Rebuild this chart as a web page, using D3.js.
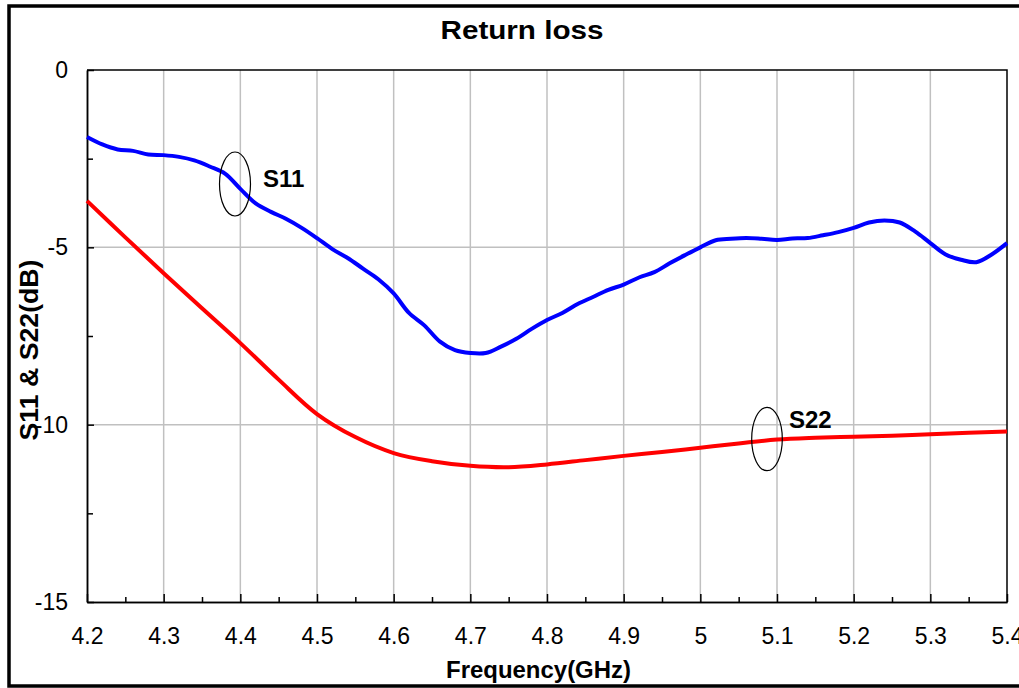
<!DOCTYPE html>
<meta charset="utf-8">
<script src="https://d3js.org/d3.v7.min.js"></script>
<style>
  body { margin: 0; background: #fff; }
  text { font-family: "Liberation Sans", Arial, sans-serif; }
</style>
<div id="chart"></div>
<script>

// data
var s11Freq = [4.20, 4.22, 4.24, 4.26, 4.28, 4.30, 4.32, 4.34, 4.36, 4.38,
               4.40, 4.42, 4.44, 4.46, 4.48, 4.50, 4.52, 4.54, 4.56, 4.58,
               4.60, 4.62, 4.64, 4.66, 4.68, 4.70, 4.72, 4.74, 4.76, 4.78,
               4.80, 4.82, 4.84, 4.86, 4.88, 4.90, 4.92, 4.94, 4.96, 4.98,
               5.00, 5.02, 5.04, 5.06, 5.08, 5.10, 5.12, 5.14, 5.16, 5.18,
               5.20, 5.22, 5.24, 5.26, 5.28, 5.30, 5.32, 5.34, 5.36, 5.38, 5.40];
var s11 = [-1.89, -2.10, -2.24, -2.28, -2.38, -2.40, -2.45, -2.55, -2.72, -2.92,
           -3.35, -3.76, -4.00, -4.20, -4.45, -4.74, -5.05, -5.30, -5.60, -5.90,
           -6.30, -6.85, -7.20, -7.65, -7.90, -7.98, -7.98, -7.80, -7.58, -7.30,
           -7.05, -6.85, -6.60, -6.40, -6.20, -6.05, -5.85, -5.70, -5.45, -5.22,
           -5.00, -4.80, -4.76, -4.74, -4.76, -4.79, -4.75, -4.74, -4.66, -4.57,
           -4.45, -4.30, -4.24, -4.30, -4.55, -4.88, -5.20, -5.35, -5.42, -5.20, -4.88];

var s22Freq = [4.20, 4.25, 4.30, 4.35, 4.40, 4.45, 4.50, 4.55, 4.60, 4.65,
               4.70, 4.75, 4.80, 4.85, 4.90, 4.95, 5.00, 5.05, 5.10, 5.15,
               5.20, 5.25, 5.30, 5.35, 5.40];
var s22 = [-3.69, -4.72, -5.73, -6.72, -7.70, -8.73, -9.70, -10.35, -10.80, -11.03,
           -11.16, -11.20, -11.12, -11.00, -10.88, -10.77, -10.65, -10.53, -10.42, -10.37,
           -10.34, -10.31, -10.27, -10.23, -10.19];

var xTicks = [4.2, 4.3, 4.4, 4.5, 4.6, 4.7, 4.8, 4.9, 5.0, 5.1, 5.2, 5.3, 5.4];
var xMinor = [4.25, 4.35, 4.45, 4.55, 4.65, 4.75, 4.85, 4.95, 5.05, 5.15, 5.25, 5.35];
var yTicks = [0, -5, -10, -15];
var yMinor = [-2.5, -7.5, -12.5];

var W = 1019, H = 688;
var plotL = 87, plotR = 1007, plotT = 70, plotB = 602;

var svg = d3.select("#chart").append("svg")
    .attr("width", W)
    .attr("height", H);

var x = d3.scaleLinear().domain([4.2, 5.4]).range([plotL, plotR]);
var y = d3.scaleLinear().domain([-15, 0]).range([plotB, plotT]);

// outer frame
svg.append("rect")
    .attr("x", 9).attr("y", 6)
    .attr("width", 1040).attr("height", 680)
    .attr("fill", "none")
    .attr("stroke", "#000")
    .attr("stroke-width", 3.5);

// grid
svg.append("g").selectAll("line")
  .data(xTicks.slice(1, -1))
  .enter().append("line")
    .attr("x1", function(d) { return x(d); })
    .attr("x2", function(d) { return x(d); })
    .attr("y1", plotT).attr("y2", plotB)
    .attr("stroke", "#c0c0c0").attr("stroke-width", 1.5);

svg.append("g").selectAll("line")
  .data(yTicks.slice(1, -1))
  .enter().append("line")
    .attr("x1", plotL).attr("x2", plotR)
    .attr("y1", function(d) { return y(d); })
    .attr("y2", function(d) { return y(d); })
    .attr("stroke", "#c0c0c0").attr("stroke-width", 1.5);

// plot border (top / right)
svg.append("path")
    .attr("d", "M" + plotL + "," + plotT + "H" + plotR + "V" + plotB)
    .attr("fill", "none")
    .attr("stroke", "#000")
    .attr("stroke-width", 1.5);

// axes
svg.append("g")
    .attr("transform", "translate(0," + plotB + ")")
    .call(d3.axisBottom(x).tickValues(xTicks).tickSizeInner(-8).tickSizeOuter(0).tickPadding(26)
      .tickFormat(function(d) { return d === 5 ? "5" : d.toFixed(1); }));
svg.append("g")
    .attr("transform", "translate(0," + plotB + ")")
    .call(d3.axisBottom(x).tickValues(xMinor).tickSizeInner(-5).tickSizeOuter(0).tickFormat(""));

svg.append("g")
    .attr("transform", "translate(" + plotL + ",0)")
    .call(d3.axisLeft(y).tickValues(yTicks).tickSizeInner(-7).tickSizeOuter(0).tickPadding(19)
      .tickFormat(function(d) { return String(d); }));
svg.append("g")
    .attr("transform", "translate(" + plotL + ",0)")
    .call(d3.axisLeft(y).tickValues(yMinor).tickSizeInner(-6).tickSizeOuter(0).tickFormat(""));

svg.selectAll(".domain").attr("stroke", "#000").attr("stroke-width", 1.5);
svg.selectAll(".tick line").attr("stroke", "#000").attr("stroke-width", 1.5);
svg.selectAll(".tick text")
    .attr("font-size", "23px")
    .attr("fill", "#000")
    .style("font-family", "'Liberation Sans', Arial, sans-serif");

// series
var line = d3.line()
    .x(function(d) { return x(d[0]); })
    .y(function(d) { return y(d[1]); })
    .curve(d3.curveCatmullRom);

svg.append("path")
    .datum(d3.zip(s22Freq, s22))
    .attr("d", line)
    .attr("fill", "none")
    .attr("stroke", "#ff0000")
    .attr("stroke-width", 4);

svg.append("path")
    .datum(d3.zip(s11Freq, s11))
    .attr("d", line)
    .attr("fill", "none")
    .attr("stroke", "#0000ff")
    .attr("stroke-width", 4);

// annotations
svg.append("ellipse")
    .attr("cx", 235).attr("cy", 184).attr("rx", 15.5).attr("ry", 32)
    .attr("fill", "none").attr("stroke", "#000").attr("stroke-width", 1.2);
svg.append("text")
    .attr("x", 263).attr("y", 187)
    .attr("font-size", "24px").attr("font-weight", "bold")
    .text("S11");

svg.append("ellipse")
    .attr("cx", 767).attr("cy", 439).attr("rx", 15.3).attr("ry", 31.7)
    .attr("fill", "none").attr("stroke", "#000").attr("stroke-width", 1.2);
svg.append("text")
    .attr("x", 789).attr("y", 428)
    .attr("font-size", "24px").attr("font-weight", "bold")
    .text("S22");

// titles
svg.append("text")
    .attr("x", 522).attr("y", 39)
    .attr("text-anchor", "middle")
    .attr("font-size", "25px").attr("font-weight", "bold")
    .attr("textLength", 163).attr("lengthAdjust", "spacingAndGlyphs")
    .text("Return loss");

svg.append("text")
    .attr("x", 538.5).attr("y", 678)
    .attr("text-anchor", "middle")
    .attr("font-size", "23px").attr("font-weight", "bold")
    .attr("textLength", 185).attr("lengthAdjust", "spacingAndGlyphs")
    .text("Frequency(GHz)");

svg.append("text")
    .attr("transform", "translate(38,350) rotate(-90)")
    .attr("text-anchor", "middle")
    .attr("font-size", "25px").attr("font-weight", "bold")
    .attr("textLength", 181).attr("lengthAdjust", "spacingAndGlyphs")
    .text("S11 & S22(dB)");

</script>
